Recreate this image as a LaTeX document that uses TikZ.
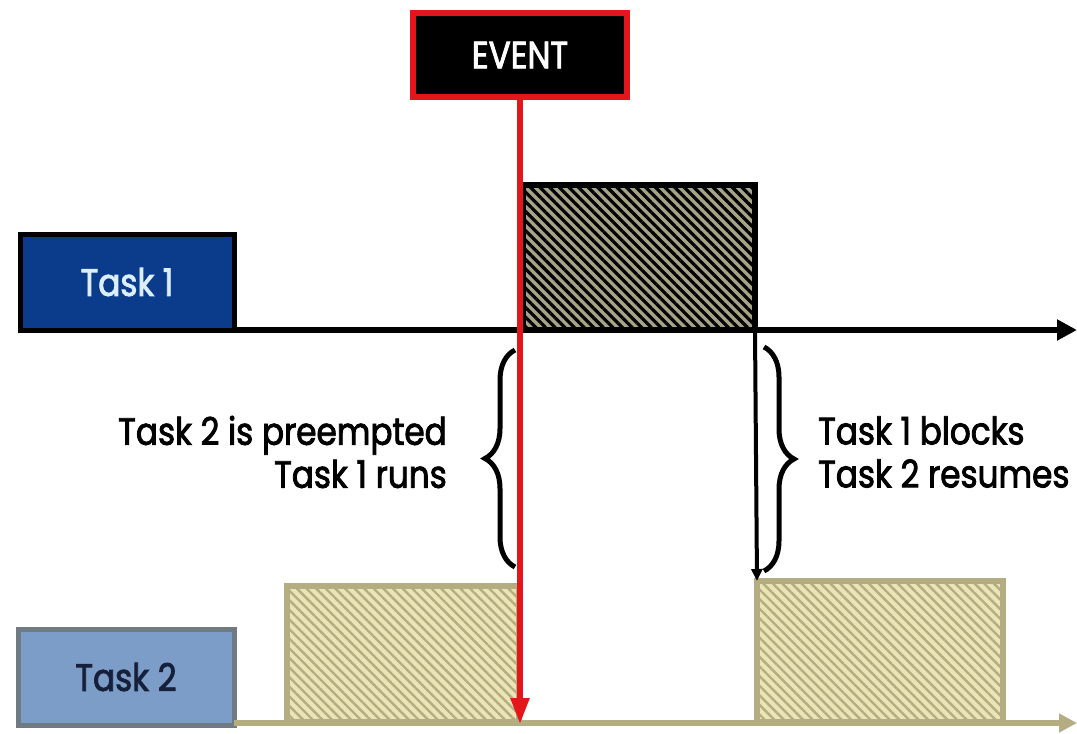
\documentclass[tikz,border=0pt]{standalone}
\usepackage{fontspec}
\setmainfont{Poppins}
\newfontfamily\lblfont{Poppins}[FakeStretch=0.86,FakeBold=2.2]
\usetikzlibrary{arrows.meta,patterns.meta,decorations.pathreplacing}
\definecolor{evred}{HTML}{E3161B}
\definecolor{tonefill}{HTML}{0B3C8C}
\definecolor{tonetext}{HTML}{DCEEFA}
\definecolor{ttwofill}{HTML}{7B9DC8}
\definecolor{ttwoline}{HTML}{6F7A82}
\definecolor{ttwotext}{HTML}{16203A}
\definecolor{darkhatch}{HTML}{A6A488}
\definecolor{lighthatch}{HTML}{EAE4B6}
\definecolor{khaki}{HTML}{B4AD82}
\tikzset{
  lbl/.style={font=\lblfont\fontsize{38}{43}\selectfont, inner sep=0pt},
  taskbox/.style={rectangle, inner sep=0pt, outer sep=0pt, line width=5pt},
  darkrun/.style={rectangle, inner sep=0pt, outer sep=0pt, line width=6pt, draw=black,
    preaction={fill=darkhatch}, pattern={Lines[angle=-45,distance=6.8pt,line width=3.2pt]}, pattern color=black},
  lightrun/.style={rectangle, inner sep=0pt, outer sep=0pt, line width=6pt, draw=khaki,
    preaction={fill=lighthatch}, pattern={Lines[angle=-45,distance=6.8pt,line width=2.4pt]}, pattern color=khaki},
  bracestyle/.style={line width=5pt, decorate, decoration={brace, amplitude=30pt, raise=0pt}}
}
\begin{document}
\begin{tikzpicture}[x=1pt,y=-1pt]
\useasboundingbox (0,0) rectangle (1077,734);
\fill[white] (0,0) rectangle (1077,734);

% task boxes
\node[taskbox, draw=black, fill=tonefill, minimum width=214pt, minimum height=96pt] (task1) at (127,282) {};
\node[lbl, text=tonetext] (t1lbl) at (task1.center) {Task 1};
\node[taskbox, draw=ttwoline, fill=ttwofill, minimum width=216pt, minimum height=96pt] (task2) at (126,677) {};
\node[lbl, text=ttwotext] (t2lbl) at (task2.center) {Task 2};

% run boxes
\node[darkrun, minimum width=232pt, minimum height=145pt] (run1) at (639,257.5) {};
\node[lightrun, minimum width=232pt, minimum height=136pt] (run2a) at (403,654) {};
\node[lightrun, minimum width=246pt, minimum height=141pt] (run2b) at (880,651.5) {};

% axes
\coordinate (ax1end) at (1077,330);
\coordinate (ax2start) at (234,723);
\coordinate (ax2end) at (1077,723);
\draw[line width=6pt, -{Triangle[length=20pt,width=20pt]}] (task1.south east) -- (ax1end);
\draw[line width=6pt, khaki, -{Triangle[length=18pt,width=18pt]}] (ax2start) -- (ax2end);

% block arrow
\draw[line width=4pt, -{Triangle[length=12pt,width=11pt]}] (run1.south east) -- (run2b.north west);

% braces
\coordinate (lbtop) at (515,350);
\coordinate (lbbot) at (515,567);
\coordinate (rbtop) at (764,347);
\coordinate (rbbot) at (764,571);
\draw[bracestyle] (lbbot) -- (lbtop);
\draw[bracestyle] (rbtop) -- (rbbot);

% labels
\node[lbl, align=right, anchor=east] (preempt) at (447,452) {Task 2 is preempted\\Task 1 runs};
\node[lbl, align=left, anchor=west] (blocks) at (818,452) {Task 1 blocks\\Task 2 resumes};

% event
\node[rectangle, draw=evred, fill=black, line width=6pt, minimum width=214pt, minimum height=84pt, inner sep=0pt, outer sep=0pt] (event) at (520,55) {};
\node[lbl, text=white] (evlbl) at (event.center) {EVENT};
\coordinate (evend) at (520,724);
\draw[line width=5.5pt, evred, -{Triangle[length=26pt,width=18pt]}] (event.south) -- (evend);
\end{tikzpicture}
\end{document}
